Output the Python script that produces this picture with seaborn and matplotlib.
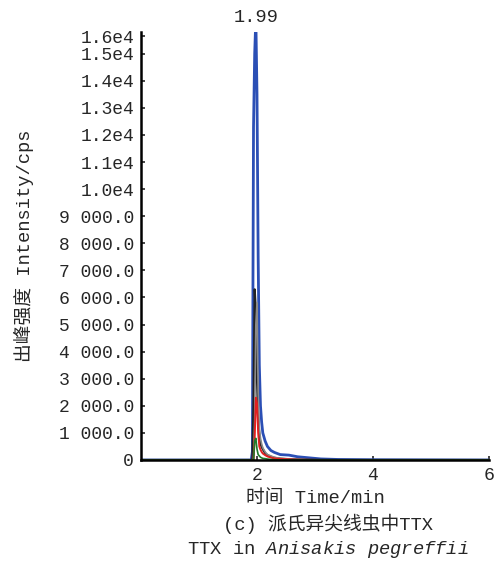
import numpy as np
import pandas as pd
import matplotlib
matplotlib.use("Agg")
import matplotlib.pyplot as plt
import seaborn as sns

# tempos de amostragem (min)
tempo = [0.0, 1.00, 1.90, 1.92, 1.94, 1.96, 1.98, 2.00, 2.02, 2.04, 2.06, 2.08,
         2.10, 2.14, 2.18, 2.24, 2.30, 2.40, 2.55, 2.70, 2.90, 3.10, 3.40,
         4.00, 5.00, 6.00]

# intensidades (cps) por transição
azul = [0, 0, 0, 300, 12300, 15000, 16300, 13500, 7500, 3500, 2000, 1400,
        1000, 700, 500, 350, 280, 200, 180, 120, 80, 40, 20, 10, 5, 0]
preto = [0, 0, 0, 0, 2000, 6300, 5500, 3000, 1500, 900, 600, 480,
         400, 250, 180, 120, 80, 50, 30, 20, 10, 5, 0, 0, 0, 0]
cinza = [0, 0, 0, 0, 0, 1500, 5000, 5800, 2500, 1200, 800, 600,
         450, 300, 200, 150, 100, 60, 30, 15, 8, 0, 0, 0, 0, 0]
vermelho = [0, 0, 0, 0, 0, 800, 2300, 2100, 1000, 500, 380, 300,
            240, 180, 130, 90, 60, 40, 25, 10, 5, 0, 0, 0, 0, 0]
verde = [0, 0, 0, 0, 0, 700, 800, 400, 200, 150, 100, 80,
         60, 50, 35, 20, 10, 5, 0, 0, 0, 0, 0, 0, 0, 0]

series = {"azul": azul, "preto": preto, "cinza": cinza,
          "vermelho": vermelho, "verde": verde}
cores = {"azul": "#2b4fb5", "preto": "#222222", "cinza": "#8a8a8a",
         "vermelho": "#e02020", "verde": "#1f7a2a"}
larguras = {"azul": 2.0, "preto": 1.6, "cinza": 1.2,
            "vermelho": 1.4, "verde": 1.2}

df = pd.concat(
    [pd.DataFrame({"tempo": tempo, "intensidade": v, "serie": k})
     for k, v in series.items()],
    ignore_index=True,
)

yticks = list(range(0, 16000, 1000)) + [15640]
ytick_labels = ["0"] + [f"{v // 1000} 000.0" for v in range(1000, 10000, 1000)] + \
    ["1.0e4", "1.1e4", "1.2e4", "1.3e4", "1.4e4", "1.5e4", "1.6e4"]

sns.set_style("ticks")
plt.rcParams["font.family"] = ["Liberation Mono", "Noto Sans CJK SC", "DejaVu Sans"]
plt.rcParams["mathtext.fontset"] = "custom"
plt.rcParams["mathtext.it"] = "Liberation Mono:italic"
plt.rcParams["mathtext.rm"] = "Liberation Mono"

fig = plt.figure(figsize=(4.99, 5.68), dpi=100)
ax = fig.add_axes([141 / 499, 1 - 460 / 568, 348 / 499, 428 / 568])

for nome in series:
    sns.lineplot(
        data=df[df["serie"] == nome],
        x="tempo",
        y="intensidade",
        color=cores[nome],
        linewidth=larguras[nome],
        estimator=None,
        sort=False,
        ax=ax,
    )

ax.set_xlim(0, 6)
ax.set_ylim(0, 15800)
ax.set_xticks([2, 4, 6])
ax.set_xticklabels(["2", "4", "6"], fontsize=13)
ax.set_yticks(yticks)
ax.set_yticklabels(ytick_labels, fontsize=13)
ax.tick_params(direction="in", length=3, width=1.2, pad=5)
for s in ["top", "right"]:
    ax.spines[s].set_visible(False)
for s in ["left", "bottom"]:
    ax.spines[s].set_linewidth(1.8)
    ax.spines[s].set_color("black")

ax.set_xlabel("时间 Time/min", fontsize=13.5, labelpad=4)
ax.set_ylabel("出峰强度 Intensity/cps", fontsize=13.5, labelpad=18)

ax.text(1.99, 1.015, "1.99", transform=ax.get_xaxis_transform(),
        ha="center", va="bottom", fontsize=13.5, clip_on=False)

fig.text(328 / 499, 1 - 524 / 568, "(c) 派氏异尖线虫中TTX", ha="center", va="center",
         fontsize=13.5)
fig.text(328 / 499, 1 - 550 / 568, "TTX in $\\it{Anisakis}$ $\\it{pegreffii}$",
         ha="center", va="center", fontsize=13.5)

fig.savefig("out.png", dpi=100)
